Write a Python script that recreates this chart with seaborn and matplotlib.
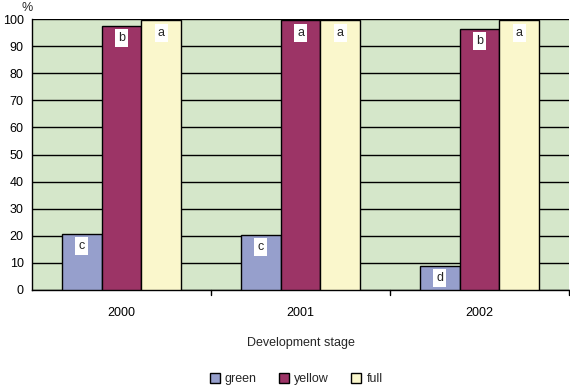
import matplotlib
matplotlib.use("Agg")
import matplotlib.pyplot as plt
import seaborn as sns
import pandas as pd
from matplotlib.patches import Patch

years = ["2000", "2001", "2002"]
stages = ["green", "yellow", "full"]
green = [20.8, 20.4, 9.0]
yellow = [97.6, 99.5, 96.4]
full = [99.5, 99.5, 99.5]
letters_green = ["c", "c", "d"]
letters_yellow = ["b", "a", "b"]
letters_full = ["a", "a", "a"]
yticks = list(range(0, 101, 10))

colors = {"green": "#969FCC", "yellow": "#9C3466", "full": "#FAF7CC"}

rows = []
for i, y in enumerate(years):
    rows.append({"year": y, "stage": "green", "value": green[i]})
    rows.append({"year": y, "stage": "yellow", "value": yellow[i]})
    rows.append({"year": y, "stage": "full", "value": full[i]})
df = pd.DataFrame(rows)

sns.set_theme(style="white")
plt.rcParams["font.family"] = ["Liberation Sans", "DejaVu Sans"]
FS = 9

fig = plt.figure(figsize=(5.7, 3.88), dpi=100)
ax = fig.add_axes([32/570, (388-290)/388, 537/570, (290-19)/388])
ax.set_facecolor("#D5E7CA")

sns.barplot(data=df, x="year", y="value", hue="stage", hue_order=stages,
            palette=colors, saturation=1, width=0.67, edgecolor="black", linewidth=1.0,
            ax=ax, legend=False, zorder=3)

ax.set_ylim(0, 100)
ax.set_xlim(-0.5, 2.5)
ax.set_yticks(yticks)
ax.yaxis.grid(True, color="black", linewidth=1.0, zorder=0)
ax.set_axisbelow(True)
for s in ["top", "right"]:
    ax.spines[s].set_visible(False)
for s in ["left", "bottom"]:
    ax.spines[s].set_color("black")
    ax.spines[s].set_linewidth(1.0)
ax.tick_params(axis="both", labelsize=FS, colors="black", length=3, width=1, direction="out", pad=3)
ax.tick_params(axis="x", length=0, pad=12)
for xb in [0.5, 1.5, 2.5]:
    ax.plot([xb, xb], [0, -2], color="black", lw=1, clip_on=False)
ax.set_xlabel("Development stage", fontsize=FS, labelpad=13)
ax.set_ylabel("")
fig.text(27/570, 1 - 8/388, "%", fontsize=FS, ha="center", va="center")

all_letters = [letters_green, letters_yellow, letters_full]
for cont, labs in zip(ax.containers, all_letters):
    for bar, lab in zip(cont, labs):
        cx = bar.get_x() + bar.get_width() / 2
        top = bar.get_height()
        ax.annotate(lab, (cx, top), xytext=(0, -9), textcoords="offset points",
                    ha="center", va="center", fontsize=FS, zorder=5,
                    bbox=dict(boxstyle="square,pad=0.25", fc="white", ec="none"))

handles = [Patch(facecolor=colors[s], edgecolor="black", label=s) for s in stages]
fig.legend(handles=handles, loc="center", bbox_to_anchor=(296/570, 1 - 379/388), ncol=3,
           frameon=False, fontsize=FS, handlelength=0.8, handleheight=0.8,
           columnspacing=1.8, handletextpad=0.4)

fig.savefig("out.png", dpi=100)
